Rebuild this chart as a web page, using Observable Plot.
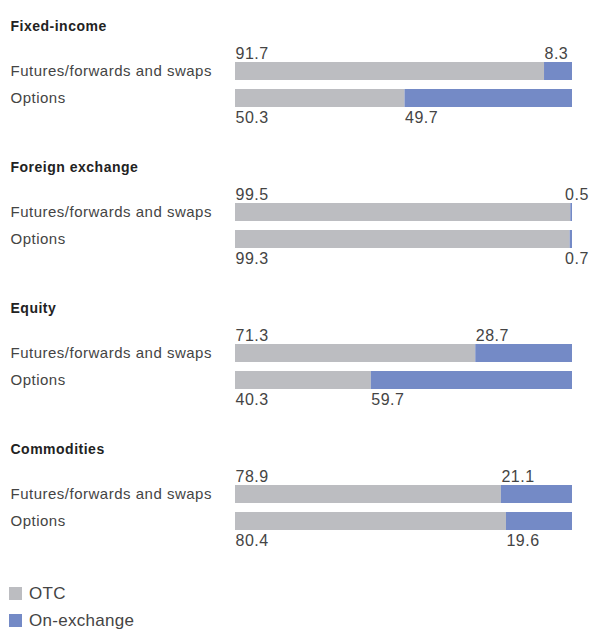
<!DOCTYPE html>
<html>
<head>
<meta charset="utf-8">
<script src="https://cdn.jsdelivr.net/npm/d3@7"></script>
<script src="https://cdn.jsdelivr.net/npm/@observablehq/plot@0.6"></script>
<style>
  body { margin: 0; background: #fff; font-family: "Liberation Sans", Arial, sans-serif; color: #444; }
  #legend { margin-top: 24px; margin-left: 9px; font-size: 17px; letter-spacing: 0.3px; }
  .row { display: flex; align-items: center; height: 27px; }
  .sw { width: 13px; height: 13px; margin-right: 7px; }
</style>
</head>
<body>
<div id="chart"></div>
<div id="legend"></div>
<script>
const groups = ["Fixed-income", "Foreign exchange", "Equity", "Commodities"];
const types = ["Futures/forwards and swaps", "Options"];
const otc = [[91.7, 50.3], [99.5, 99.3], [71.3, 40.3], [78.9, 80.4]];
const onExchange = [[8.3, 49.7], [0.5, 0.7], [28.7, 59.7], [21.1, 19.6]];
const sources = ["OTC", "On-exchange"];
const colors = ["#bcbdc1", "#748ac6"];

const rows = [];
const labels = [];
const rowLabels = [];
groups.forEach((g, i) => {
  types.forEach((t, j) => {
    const a = otc[i][j], b = onExchange[i][j];
    rows.push({group: g, type: t, source: sources[0], value: a});
    rows.push({group: g, type: t, source: sources[1], value: b});
    labels.push({group: g, type: t, lx: 0, label: a.toFixed(1)});
    labels.push({group: g, type: t, lx: Math.min(a, 97.8), label: b.toFixed(1)});
    rowLabels.push({group: g, type: t});
  });
});

const chart = Plot.plot({
  width: 596,
  height: 556,
  marginLeft: 235,
  marginRight: 24,
  marginTop: 60,
  marginBottom: 25,
  style: {fontFamily: "Liberation Sans, Arial, sans-serif", fontSize: "15px", color: "#444", letterSpacing: "0.5px", background: "#fff"},
  x: {domain: [0, 100], axis: null},
  y: {domain: types, axis: null, paddingInner: 1/3, paddingOuter: 0},
  fy: {domain: groups, axis: null, paddingInner: 0.683, paddingOuter: 0},
  color: {domain: sources, range: colors},
  marks: [
    Plot.barX(rows, Plot.stackX({fy: "group", y: "type", x: "value", fill: "source", order: null})),
    Plot.text(labels.filter(d => d.type === types[0]), {fy: "group", y: "type", x: "lx", text: "label", textAnchor: "start", lineAnchor: "bottom", dy: -13, fontSize: 16}),
    Plot.text(labels.filter(d => d.type === types[1]), {fy: "group", y: "type", x: "lx", text: "label", textAnchor: "start", lineAnchor: "top", dy: 13, fontSize: 16}),
    Plot.text(rowLabels, {fy: "group", y: "type", text: "type", frameAnchor: "left", dx: -225, textAnchor: "start"}),
    Plot.text(groups, {fy: d => d, text: d => d, frameAnchor: "top-left", dx: -225, dy: -32, textAnchor: "start", lineAnchor: "bottom", fontWeight: "bold", fontSize: 14, fill: "#222"})
  ]
});
document.getElementById("chart").appendChild(chart);

const legend = document.getElementById("legend");
sources.forEach((s, i) => {
  const r = document.createElement("div");
  r.className = "row";
  const sw = document.createElement("div");
  sw.className = "sw";
  sw.style.background = colors[i];
  const lab = document.createElement("span");
  lab.textContent = s;
  r.appendChild(sw);
  r.appendChild(lab);
  legend.appendChild(r);
});
</script>
</body>
</html>
